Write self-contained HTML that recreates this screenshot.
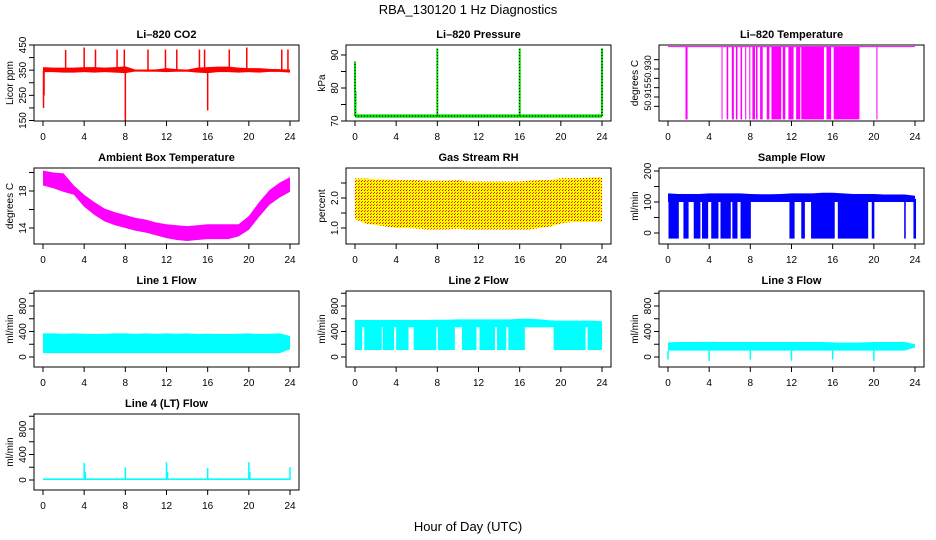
<!DOCTYPE html>
<html><head><meta charset="utf-8"><style>
body{margin:0;background:#fff}
svg{display:block;font-family:"Liberation Sans",sans-serif}
</style></head><body>
<svg id="c" width="936" height="540" viewBox="0 0 936 540">
<defs>
<pattern id="rhpat" width="3" height="3" patternUnits="userSpaceOnUse"><rect width="3" height="3" fill="#ffff00"/><rect x="1" y="1" width="1" height="1" fill="#ff0000"/><rect x="2" y="0" width="1" height="1" fill="#ff4000"/></pattern>
</defs>
<text x="468" y="14" text-anchor="middle" font-size="13">RBA_130120  1 Hz Diagnostics</text>
<text x="468" y="531" text-anchor="middle" font-size="13">Hour of Day (UTC)</text>
</svg>
<script>
const hours=[0,1,2,3,4,5,6,7,8,9,10,11,12,13,14,15,16,17,18,19,20,21,22,23,24];
const xTicks=[0,4,8,12,16,20,24];
// CO2
const co2Base=348;
const co2Hi=[362,360,360,360,362,362,360,362,365,352,352,353,358,354,352,360,362,364,364,360,358,358,355,354,352];
const co2Lo=[342,342,340,340,342,340,342,340,338,345,344,344,342,344,344,340,338,342,342,340,342,340,343,343,340];
const co2SpikeT=[0.05,0.1,2.2,4.0,5.1,7.2,7.9,8.0,10.2,11.9,13.0,15.2,15.7,16.0,18.1,19.8,23.2,23.8];
const co2SpikeV=[200,250,430,440,432,432,432,150,432,432,432,432,432,190,432,440,432,432];
// Pressure
const presBase=71.5;
const presSpikeT=[0.0,0.05,8.0,16.0,24.0];
const presSpikeV=[88,79,92,92,92];
// Li-820 temperature
const ltBase=50.942, ltDrop=50.903;
const ltDropStart=[1.7,5.2,5.7,6.2,6.6,7.05,7.5,7.9,8.2,8.55,8.95,9.6,10.05,11.15,11.7,12.45,12.95,15.4,16.1,20.25];
const ltDropEnd=[1.9,5.28,5.85,6.4,6.75,7.2,7.6,8.0,8.45,8.7,9.2,9.85,11.0,11.4,12.2,12.85,15.15,15.85,18.6,20.35];
// Ambient temperature
const ambHi=[20.2,20.0,19.9,18.6,17.6,16.8,16.1,15.7,15.4,15.1,14.9,14.6,14.4,14.3,14.2,14.3,14.4,14.4,14.4,14.4,15.3,16.8,18.1,18.9,19.5];
const ambLo=[18.6,18.3,17.9,17.6,16.3,15.4,14.7,14.3,14.0,13.7,13.5,13.2,12.9,12.7,12.6,12.7,12.8,12.8,12.8,13.1,13.8,15.2,16.5,17.3,17.9];
// Gas stream RH
const rhHi=[2.65,2.65,2.62,2.62,2.6,2.6,2.6,2.58,2.58,2.58,2.6,2.55,2.55,2.55,2.55,2.55,2.55,2.58,2.6,2.6,2.66,2.66,2.66,2.68,2.68];
const rhLo=[1.3,1.15,1.1,1.05,1.0,1.0,0.98,0.95,0.95,0.95,0.98,0.95,0.95,0.95,0.95,0.95,0.95,0.95,1.0,1.05,1.15,1.2,1.2,1.2,1.2];
// Sample flow
const sfHi=[128,126,126,126,128,128,128,128,126,125,125,126,128,128,128,130,130,128,126,126,126,124,124,124,120];
const sfLo=[100,100,100,100,100,100,100,100,100,100,100,100,100,100,100,100,100,100,100,100,100,100,100,100,100];
const sfDropStart=[0.05,1.5,2.5,3.3,4.2,5.1,6.25,7.05,11.8,12.95,13.9,16.5,19.8,22.95,23.85];
const sfDropEnd=[1.05,2.0,3.15,3.9,4.9,6.1,6.75,8.05,12.3,13.3,16.2,19.45,20.05,23.1,24.1];
const sfDropMin=-18;
// Line flows
const l1Hi=[370,370,365,370,365,360,365,370,370,365,370,365,370,365,370,360,365,360,360,365,370,360,365,370,330];
const l1Lo=[60,60,60,60,60,60,60,60,60,60,60,60,60,60,60,60,60,60,60,60,60,60,60,60,120];
const l2Hi=[580,580,580,580,580,580,580,580,585,585,590,590,590,590,590,590,600,600,590,575,570,570,570,570,560];
const l2Mid=470;
const l2Lo=110;
const l2GapStart=[0.7,2.6,3.8,5.2,7.9,9.7,11.8,13.6,14.7,16.5,22.4];
const l2GapEnd=[0.9,2.7,4.0,5.7,8.05,10.4,12.1,13.8,14.9,19.3,22.6];
const l3Hi=[230,235,235,235,240,235,235,235,235,235,235,235,235,235,235,235,230,225,225,230,235,235,235,235,200];
const l3Lo=[100,100,100,100,100,100,100,100,100,100,100,100,100,100,100,100,100,100,100,100,100,100,100,100,150];
const l3DipT=[0.0,4.0,8.0,12.0,16.0,20.0];
const l3DipV=[-40,-60,-40,-60,-40,-60];
const l4Base=15;
const l4SpikeT=[4.0,4.1,8.0,12.0,12.1,16.0,20.0,20.1,24.0];
const l4SpikeV=[270,130,200,280,130,190,280,130,200];

const NS='http://www.w3.org/2000/svg';
const svg=document.getElementById('c');
const colX=[43,355,668], SPAN=247, rowTop=[45,168,291,414], H=76;
function mk(tag,attrs,parent){const e=document.createElementNS(NS,tag);for(const k in attrs)e.setAttribute(k,attrs[k]);(parent||svg).appendChild(e);return e;}

function panel(col,row,name,title,ylab,v1,o1,v2,o2,ticks,labels,dec,lfs){
  const g=mk('g',{});
  
  
  const x0=colX[col], top=rowTop[row], L=x0-9, R=x0+SPAN+9, B=top+H;
  const x=t=>x0+t*SPAN/24;
  const y=v=>top+o1+(v-v1)*(o2-o1)/(v2-v1);
  const plot=mk('g',{'clip-path':'url(#clip'+name+')'},g);
  const cp=mk('clipPath',{id:'clip'+name},g);
  mk('rect',{x:L,y:top,width:R-L,height:H},cp);
  const tt=mk('text',{x:(L+R)/2,y:top-7,'text-anchor':'middle','font-size':11,'font-weight':'bold'},g);
  tt.textContent=title;
  
  
  const yl=mk('text',{x:0,y:0,'text-anchor':'middle','font-size':10,transform:`translate(${L-21},${top+H/2}) rotate(-90)`},g);
  yl.textContent=ylab;
  
  
  xTicks.forEach(t=>{
    mk('line',{x1:x(t),x2:x(t),y1:B,y2:B+5,stroke:'#000'},g);
    const l=mk('text',{x:x(t),y:B+19,'text-anchor':'middle','font-size':10},g);
    l.textContent=t;
    
    
  });
  mk('line',{x1:x(0),x2:x(24),y1:B,y2:B,stroke:'#000'},g);
  ticks.forEach(v=>{
    const yy=y(v); if(yy<top-1||yy>B+1)return;
    mk('line',{x1:L-5,x2:L,y1:yy,y2:yy,stroke:'#000'},g);
  });
  labels.forEach(v=>{
    const yy=y(v);
    const l=mk('text',{x:0,y:0,'text-anchor':'middle','font-size':lfs||10,transform:`translate(${L-8},${yy}) rotate(-90)`},g);
    l.textContent=dec?v.toFixed(dec):String(v);
    
    
  });
  return {g,plot,x,y,L,R,top,B,name};
}
function frame(p){const r=mk('rect',{x:p.L,y:p.top,width:p.R-p.L,height:H,fill:'none',stroke:'#000'},p.g);}
function band(p,hi,lo,fill,name){
  let d='M'+hours.map((t,i)=>p.x(t)+','+p.y(hi[i])).join('L');
  d+='L'+hours.slice().reverse().map((t,j)=>{const i=hours.length-1-j;return p.x(t)+','+p.y(lo[i]);}).join('L')+'Z';
  const e=mk('path',{d,fill,stroke:'none'},p.plot);
  
  
  return e;
}
function vline(p,t,v1,v2,color,w,name){
  const e=mk('line',{x1:p.x(t),x2:p.x(t),y1:p.y(v1),y2:p.y(v2),stroke:color,'stroke-width':w||1},p.plot);
  
  
  return e;
}
function rectI(p,t1,t2,v1,v2,color,name){
  const e=mk('rect',{x:p.x(t1),y:Math.min(p.y(v1),p.y(v2)),width:Math.max(1,p.x(t2)-p.x(t1)),height:Math.abs(p.y(v1)-p.y(v2)),fill:color},p.plot);
  
  
  return e;
}

// 1 CO2
let p=panel(0,0,'co2','Li\u2013820 CO2','Licor ppm',450,0,150,75.5,[150,200,250,300,350,400,450],[150,250,350,450]);
band(p,co2Hi,co2Lo,'#ff0000','co2-noise-band');
mk('line',{x1:p.x(0),x2:p.x(24),y1:p.y(co2Base),y2:p.y(co2Base),stroke:'#f00','stroke-width':2},p.plot);
co2SpikeT.forEach((t,i)=>vline(p,t,co2Base,co2SpikeV[i],'#f00',1.5,'co2-spike'));
frame(p);
// 2 Pressure
p=panel(1,0,'pressure','Li\u2013820 Pressure','kPa',70,76,90,10,[70,75,80,85,90],[70,80,90]);
rectI(p,0,24,71.0,72.0,'#00dd00','pressure-band');
mk('line',{x1:p.x(0),x2:p.x(24),y1:p.y(presBase),y2:p.y(presBase),stroke:'#000','stroke-width':1,'stroke-dasharray':'1,2'},p.plot);
presSpikeT.forEach((t,i)=>{vline(p,t,presBase,presSpikeV[i],'#00dd00',2,'pressure-spike');vline(p,t,presBase,presSpikeV[i],'#000',1,'pressure-spike-dots').setAttribute('stroke-dasharray','1,2');});
frame(p);
// 3 Li-820 temperature
p=panel(2,0,'li820-temp','Li\u2013820 Temperature','degrees C',50.930,24,50.915,52,[50.935,50.930,50.925,50.920,50.915,50.910],[50.930,50.915],3,9);
mk('line',{x1:p.x(0),x2:p.x(24),y1:p.y(ltBase),y2:p.y(ltBase),stroke:'#ff00ff'},p.plot);
ltDropStart.forEach((t,i)=>rectI(p,t,ltDropEnd[i],ltBase,ltDrop,'#ff00ff','temp-drop'));
frame(p);
// 4 Ambient
p=panel(0,1,'ambient','Ambient Box Temperature','degrees C',18,23,14,60,[14,16,18,20],[14,18]);
band(p,ambHi,ambLo,'#ff00ff','ambient-band');
frame(p);
// 5 RH
p=panel(1,1,'rh','Gas Stream RH','percent',2.0,30,1.0,60,[1.0,1.5,2.0,2.5],[1.0,2.0],1);
band(p,rhHi,rhLo,'url(#rhpat)','rh-band');
frame(p);
// 6 Sample flow
p=panel(2,1,'sample-flow','Sample Flow','ml/min',0,65,200,3,[0,50,100,150,200],[0,100,200]);
band(p,sfHi,sfLo,'#0000ff','sample-flow-band');
sfDropStart.forEach((t,i)=>rectI(p,t,sfDropEnd[i],sfDropMin,110,'#0000ff','sample-flow-dropout'));
frame(p);
// 7-9 line flows
const flowTicks=[0,200,400,600,800,1000], flowLabels=[0,400,800];
p=panel(0,2,'line1','Line 1 Flow','ml/min',0,66,800,15,flowTicks,flowLabels);
band(p,l1Hi,l1Lo,'#00ffff','line1-band');
frame(p);
p=panel(1,2,'line2','Line 2 Flow','ml/min',0,66,800,15,flowTicks,flowLabels);
band(p,l2Hi,hours.map(()=>l2Mid),'#00ffff','line2-top-band');
rectI(p,0,24,l2Lo,l2Mid,'#00ffff','line2-low-band');
l2GapStart.forEach((t,i)=>rectI(p,t,l2GapEnd[i],l2Lo-5,l2Mid-5,'#ffffff','line2-gap'));
frame(p);
p=panel(2,2,'line3','Line 3 Flow','ml/min',0,66,800,15,flowTicks,flowLabels);
band(p,l3Hi,l3Lo,'#00ffff','line3-band');
l3DipT.forEach((t,i)=>vline(p,t,100,l3DipV[i],'#00ffff',1.5,'line3-dip'));
frame(p);
p=panel(0,3,'line4','Line 4 (LT) Flow','ml/min',0,66,800,15,flowTicks,flowLabels);
rectI(p,0,24,0,l4Base+10,'#00ffff','line4-base');
l4SpikeT.forEach((t,i)=>vline(p,t,0,l4SpikeV[i],'#00ffff',1.5,'line4-spike'));
frame(p);
</script>
</body></html>
